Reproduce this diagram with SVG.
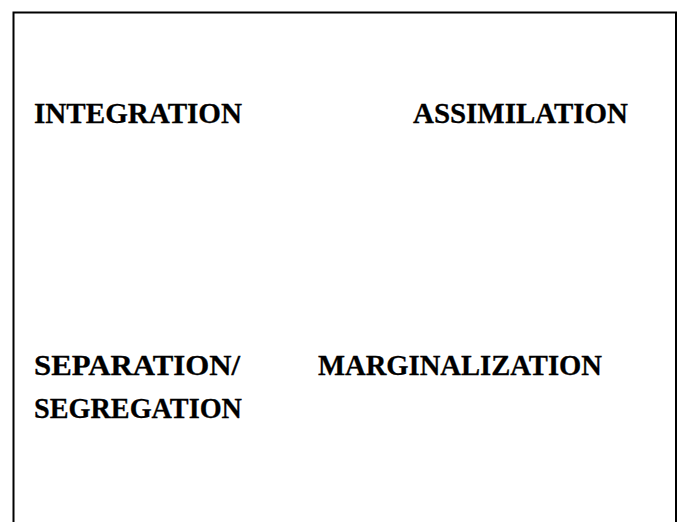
<svg xmlns="http://www.w3.org/2000/svg" width="681" height="522" viewBox="0 0 681 522">
<style>
.t{font-family:"Liberation Serif","DejaVu Serif",serif;font-weight:bold;font-size:30px;fill:#000;stroke:#000;stroke-width:0.3}
</style>
<rect x="0" y="0" width="681" height="522" fill="#fff"/>
<g id="frame"><rect x="13.5" y="12.5" width="662.5" height="530" fill="none" stroke="#000" stroke-width="2"/></g>
<g id="integration"><text class="t" x="34" y="123" textLength="208" lengthAdjust="spacingAndGlyphs">INTEGRATION</text></g>
<g id="assimilation"><text class="t" x="413" y="123" textLength="215" lengthAdjust="spacingAndGlyphs">ASSIMILATION</text></g>
<g id="separation"><text class="t" x="34" y="375" textLength="206" lengthAdjust="spacingAndGlyphs">SEPARATION/</text><text class="t" x="34" y="418" textLength="208" lengthAdjust="spacingAndGlyphs">SEGREGATION</text></g>
<g id="marginalization"><text class="t" x="318" y="375" textLength="284" lengthAdjust="spacingAndGlyphs">MARGINALIZATION</text></g>
<g id="connectors"></g>
</svg>
